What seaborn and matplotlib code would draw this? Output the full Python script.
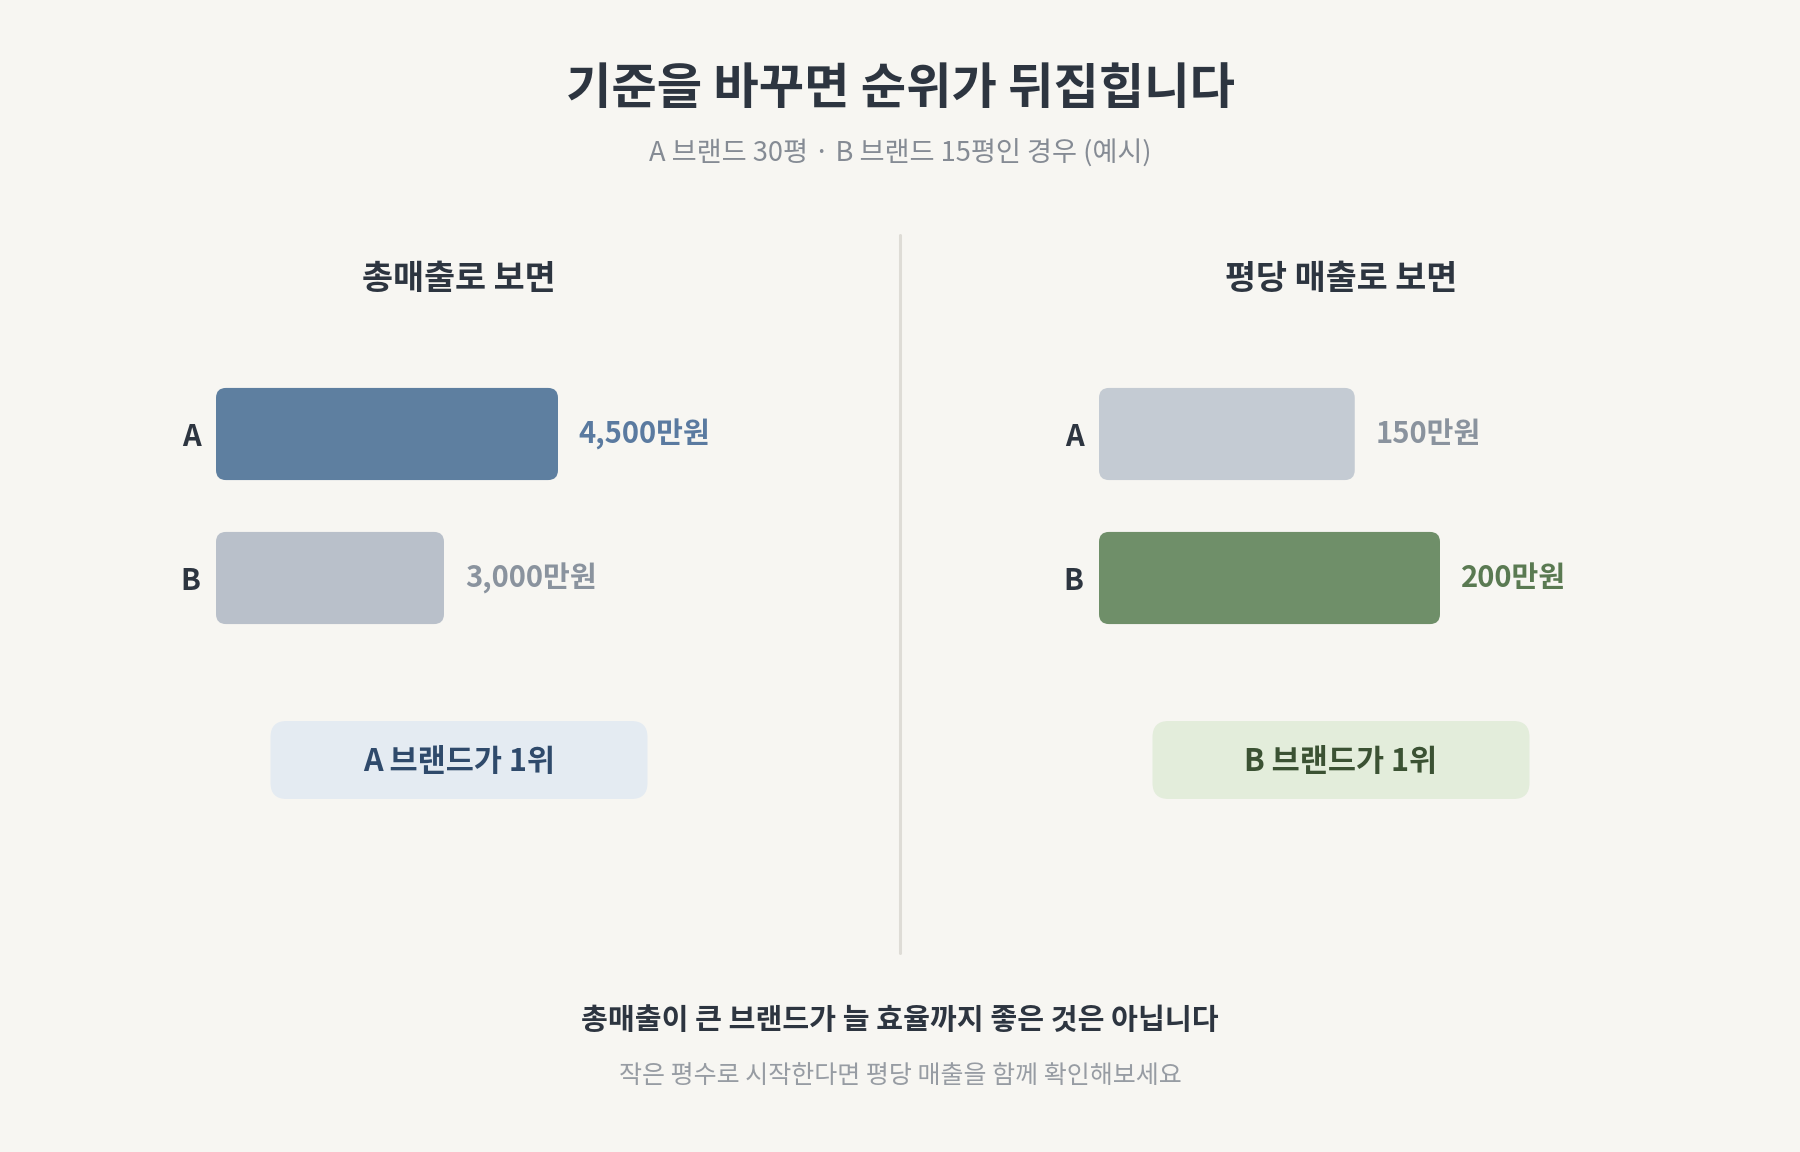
import matplotlib
matplotlib.use("Agg")
import matplotlib.pyplot as plt
import seaborn as sns
import pandas as pd
from matplotlib.patches import FancyBboxPatch
from matplotlib.lines import Line2D

# ---- data ----
brands = ["A", "B"]
total_sales = [4500, 3000]          # 만원
per_pyeong_sales = [150, 200]       # 만원
total_labels = ["4,500만원", "3,000만원"]
per_labels = ["150만원", "200만원"]

title = "기준을 바꾸면 순위가 뒤집힙니다"
subtitle = "A 브랜드 30평 · B 브랜드 15평인 경우 (예시)"
panel_titles = ["총매출로 보면", "평당 매출로 보면"]
badges = ["A 브랜드가 1위", "B 브랜드가 1위"]
foot_main = "총매출이 큰 브랜드가 늘 효율까지 좋은 것은 아닙니다"
foot_sub = "작은 평수로 시작한다면 평당 매출을 함께 확인해보세요"

# ---- style ----
BG = "#f7f6f2"
DARK = "#2d3540"
GRAY_TXT = "#858b94"
sns.set_theme(style="white")
plt.rcParams["font.family"] = ["Noto Sans CJK KR", "DejaVu Sans"]

W, H = 1800, 1152
fig = plt.figure(figsize=(W / 100, H / 100), dpi=100, facecolor=BG)


def fx(px):
    return px / W


def fy(py):
    return 1 - py / H


# title & subtitle
fig.text(0.5, fy(89), title, ha="center", va="center", fontsize=35.5,
         fontweight="bold", color=DARK)
fig.text(0.5, fy(154), subtitle, ha="center", va="center", fontsize=19.6,
         color=GRAY_TXT)

# divider
fig.add_artist(Line2D([0.5, 0.5], [fy(235), fy(953)], color="#dedcd6",
                      lw=2.2, transform=fig.transFigure))

panels = [
    dict(values=total_sales, labels=total_labels, x0=216, full=342,
         colors=["#5e7fa0", "#b9c0ca"], lab_colors=["#5a7aa0", "#8a939e"],
         cx=459, badge_fill="#e4ebf2", badge_txt="#2f4a6b"),
    dict(values=per_pyeong_sales, labels=per_labels, x0=1099, full=341,
         colors=["#c4cbd3", "#6f8f69"], lab_colors=["#8a939e", "#5a7a52"],
         cx=1341, badge_fill="#e3eddb", badge_txt="#3b5233"),
]

AX_W = 420
for i, pnl in enumerate(panels):
    # axes spanning y 362..650 px, categories at 434 and 578
    ax = fig.add_axes([fx(pnl["x0"]), fy(650), fx(AX_W), 288 / H])
    ax.set_facecolor("none")
    df = pd.DataFrame({"brand": brands, "value": pnl["values"]})
    sns.barplot(data=df, x="value", y="brand", hue="brand",
                palette=pnl["colors"], orient="h", width=0.64, ax=ax,
                legend=False, saturation=1)
    vmax = max(pnl["values"])
    ax.set_xlim(0, vmax * AX_W / pnl["full"])
    ax.set_ylim(1.5, -0.5)
    for s in ax.spines.values():
        s.set_visible(False)
    ax.set_xticks([])
    ax.set_xlabel("")
    ax.set_ylabel("")
    ax.tick_params(axis="y", length=0, pad=11)
    for t in ax.get_yticklabels():
        t.set_fontsize(21)
        t.set_fontweight("bold")
        t.set_color(DARK)

    # rounded bars replacing the seaborn rectangles
    xmax = ax.get_xlim()[1]
    sx = xmax / AX_W          # data units per px (x)
    sy = 2.0 / 288            # data units per px (y)
    r = 10
    for cont, lab, lc in zip(ax.containers, pnl["labels"], pnl["lab_colors"]):
        for p in cont.patches:
            p.set_visible(False)
            bx, by = p.get_x(), p.get_y()
            bw, bh = p.get_width(), p.get_height()
            if bw == 0:
                continue
            rp = FancyBboxPatch((bx, by), bw, bh,
                                boxstyle=f"round,pad=0,rounding_size={r * sx}",
                                mutation_aspect=sy / sx,
                                facecolor=p.get_facecolor(), edgecolor="none",
                                zorder=2)
            ax.add_patch(rp)
        labs = [lab if p.get_width() > 0 else "" for p in cont.patches]
        ax.bar_label(cont, labels=labs, padding=15, fontsize=21,
                     fontweight="bold", color=lc)

    # panel title
    fig.text(fx(pnl["cx"]), fy(278), panel_titles[i], ha="center",
             va="center", fontsize=24.3, fontweight="bold", color=DARK)

    # badge
    bw_px, bh_px = 377, 78
    bx0 = pnl["cx"] - bw_px / 2
    by0 = 721 + bh_px
    badge = FancyBboxPatch((fx(bx0), fy(by0)), fx(bw_px), bh_px / H,
                           boxstyle=f"round,pad=0,rounding_size={16 / W}",
                           mutation_aspect=W / H,
                           facecolor=pnl["badge_fill"], edgecolor="none",
                           transform=fig.transFigure)
    fig.add_artist(badge)
    fig.text(fx(pnl["cx"]), fy(762), badges[i], ha="center", va="center",
             fontsize=22, fontweight="bold", color=pnl["badge_txt"])

# footer
fig.text(0.5, fy(1020), foot_main, ha="center", va="center", fontsize=21,
         fontweight="bold", color=DARK)
fig.text(0.5, fy(1076), foot_sub, ha="center", va="center", fontsize=18,
         color="#979ca3")

fig.savefig("out.png", dpi=100, facecolor=BG)
